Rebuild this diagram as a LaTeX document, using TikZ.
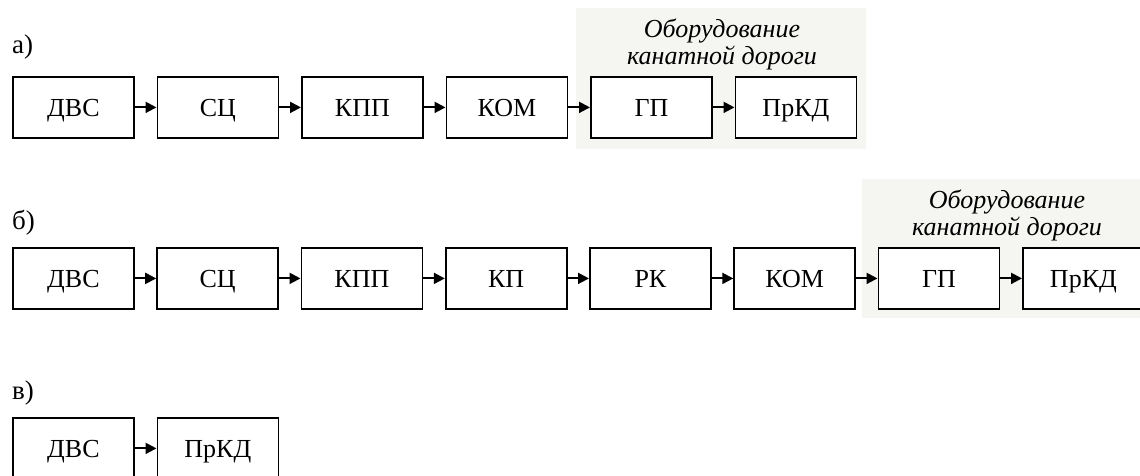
\documentclass[tikz,border=0pt]{standalone}
\usepackage{fontspec}
\setmainfont{Liberation Serif}
\usetikzlibrary{arrows.meta}
\definecolor{bggray}{RGB}{245,245,242}
\begin{document}
\begin{tikzpicture}[x=1pt,y=-1pt,
  blk/.style={draw, line width=1.8pt, minimum width=121pt, minimum height=61pt, inner sep=0pt, text height=19pt, text depth=0pt, anchor=north west, fill=white, font=\fontsize{26}{30}\selectfont},
  arr/.style={-{Triangle[length=11pt,width=11pt]}, line width=2pt},
  lbl/.style={anchor=base west, inner sep=0pt, font=\fontsize{27}{30}\selectfont},
  eqtext/.style={anchor=base, inner sep=0pt, font=\fontsize{26}{30}\selectfont\itshape},
  bgarea/.style={fill=bggray, draw=none}]
\useasboundingbox (0,0) rectangle (1140,476);
% backgrounds
\fill[bgarea] (576,8) rectangle (866,149);
\fill[bgarea] (862,179) rectangle (1150,318);
% row a
\node[lbl] (la) at (12,54) {а)};
\node[eqtext] (ta1) at (722,38) {Оборудование};
\node[eqtext] (ta2) at (722,65) {канатной дороги};
\node[blk] (a1) at (12,76) {ДВС};
\node[blk] (a2) at (156.5,76) {СЦ};
\node[blk] (a3) at (301,76) {КПП};
\node[blk] (a4) at (445.5,76) {КОМ};
\node[blk] (a5) at (590,76) {ГП};
\node[blk] (a6) at (734.5,76) {ПрКД};
\foreach \i/\j in {a1/a2,a2/a3,a3/a4,a4/a5,a5/a6} \draw[arr] (\i.east) -- (\j.west);
% row b
\node[lbl] (lb) at (12,229) {б)};
\node[eqtext] (tb1) at (1007,208) {Оборудование};
\node[eqtext] (tb2) at (1007,235) {канатной дороги};
\node[blk] (b1) at (12,247) {ДВС};
\node[blk] (b2) at (156.2,247) {СЦ};
\node[blk] (b3) at (300.5,247) {КПП};
\node[blk] (b4) at (444.8,247) {КП};
\node[blk] (b5) at (589,247) {РК};
\node[blk] (b6) at (733.3,247) {КОМ};
\node[blk] (b7) at (877.5,247) {ГП};
\node[blk] (b8) at (1022,247) {ПрКД};
\foreach \i/\j in {b1/b2,b2/b3,b3/b4,b4/b5,b5/b6,b6/b7,b7/b8} \draw[arr] (\i.east) -- (\j.west);
% row c
\node[lbl] (lc) at (12,399) {в)};
\node[blk] (c1) at (12,417) {ДВС};
\node[blk] (c2) at (156.5,417) {ПрКД};
\draw[arr] (c1.east) -- (c2.west);
\end{tikzpicture}
\end{document}
